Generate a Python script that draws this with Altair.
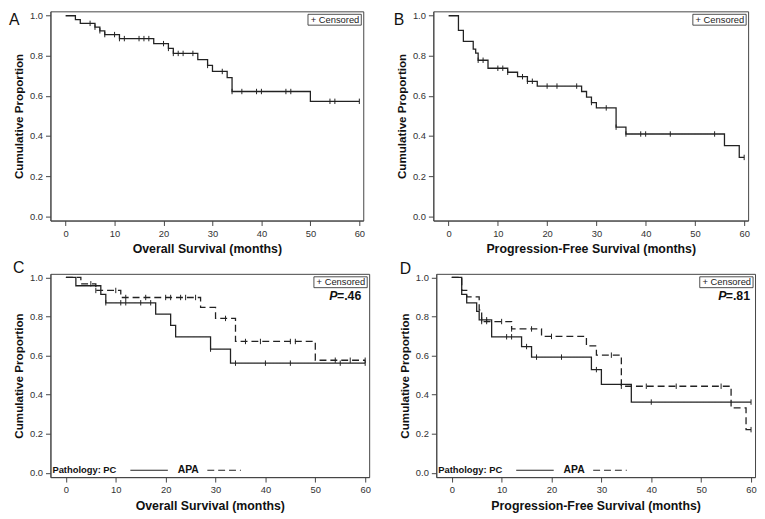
import altair as alt
import pandas as pd

# ---------------- data ----------------
# A: overall survival, all patients
A_time = [0, 2, 3, 6, 7, 8, 11, 18, 21, 22, 27, 29, 30, 33, 34, 50]
A_surv = [1.0, 0.981, 0.962, 0.943, 0.925, 0.906, 0.886, 0.861, 0.837, 0.812,
          0.781, 0.752, 0.722, 0.691, 0.622, 0.573]
A_cens = [5, 6, 7, 8, 10, 11, 12, 15, 16, 17, 20, 21, 22, 23, 24, 26, 29, 32,
          34, 36, 39, 40, 45, 46, 54, 55, 60]

# B: progression-free survival, all patients
B_time = [0, 2, 3, 5, 5.5, 6, 8, 12, 14, 16, 18, 27, 28, 29, 30, 34, 36, 56, 59]
B_surv = [1.0, 0.927, 0.872, 0.833, 0.813, 0.778, 0.738, 0.718, 0.696, 0.673,
          0.649, 0.622, 0.594, 0.567, 0.540, 0.444, 0.410, 0.352, 0.293]
B_cens = [6, 7, 10, 11, 12, 15, 16, 17, 20, 22, 26, 29, 32, 34, 36, 39, 40,
          45, 54, 60]

# C: overall survival by pathology
C_PC_time = [0, 2, 7, 8, 18, 21, 22, 29, 33]
C_PC_surv = [1.0, 0.957, 0.913, 0.870, 0.812, 0.754, 0.696, 0.633, 0.561]
C_PC_cens = [8, 11, 12, 15, 17, 29, 34, 40, 45, 55, 60]
C_APA_time = [0, 3, 6, 11, 27, 30, 34, 50]
C_APA_surv = [1.0, 0.967, 0.933, 0.897, 0.846, 0.790, 0.672, 0.576]
C_APA_cens = [5, 6, 10, 12, 16, 20, 21, 23, 24, 26, 32, 36, 39, 45, 46, 54,
              57, 60]

# D: progression-free survival by pathology
D_PC_time = [0, 2, 3, 5, 5.5, 8, 14, 16, 28, 30, 36]
D_PC_surv = [1.0, 0.913, 0.870, 0.826, 0.783, 0.696, 0.646, 0.592, 0.528,
             0.452, 0.362]
D_PC_cens = [6, 7, 11, 12, 15, 17, 22, 29, 40, 60]
D_APA_time = [0, 2, 3, 5.5, 6, 12, 18, 27, 29, 34, 56, 59]
D_APA_surv = [1.0, 0.933, 0.900, 0.833, 0.774, 0.736, 0.698, 0.649, 0.602,
              0.443, 0.332, 0.221]
D_APA_cens = [6, 7, 10, 12, 16, 20, 32, 34, 39, 45, 54, 60]

X_TICKS = [0, 10, 20, 30, 40, 50, 60]
Y_TICKS = [0.0, 0.2, 0.4, 0.6, 0.8, 1.0]
END_TIME = 60

INK = "#222222"
FRAME = "#444444"
FONT = "Liberation Sans"


def step_rows(times, survs, group):
    rows = [{"t": t, "s": s, "g": group} for t, s in zip(times, survs)]
    rows.append({"t": END_TIME, "s": survs[-1], "g": group})
    return rows


def cens_rows(cens, times, survs, group):
    out = []
    for c in cens:
        s = [sv for t, sv in zip(times, survs) if t <= c][-1]
        out.append({"t": c, "s": s, "g": group})
    return out


def panel(series, letter, xtitle, w, h, ydom, letter_x, letter_y,
          pval=None, pval_right=8, pathology=False):
    curves, cens = [], []
    for (times, survs, cs, g) in series:
        curves += step_rows(times, survs, g)
        cens += cens_rows(cs, times, survs, g)
    curves = pd.DataFrame(curves)
    cens = pd.DataFrame(cens)

    x = alt.X("t:Q", scale=alt.Scale(domain=[-3.1, 60.8], nice=False, zero=False),
              axis=alt.Axis(values=X_TICKS, title=xtitle, titleFontSize=12.5))
    y = alt.Y("s:Q", scale=alt.Scale(domain=ydom, nice=False, zero=False),
              axis=alt.Axis(values=Y_TICKS, format=".1f", title="Cumulative Proportion",
                            titleFontSize=11.8))
    dash = alt.StrokeDash("g:N", scale=alt.Scale(domain=["All", "PC", "APA"],
                                                 range=[[1, 0], [1, 0], [7, 4]]),
                          legend=None)

    lines = alt.Chart(curves).mark_line(
        interpolate="step-after", color=INK, strokeWidth=1.3
    ).encode(x=x, y=y, strokeDash=dash, detail="g:N")

    ticks = alt.Chart(cens).mark_point(
        shape="M0,-1L0,1", filled=False, color=INK, strokeWidth=1,
        size=30, opacity=1
    ).encode(x=x, y=y)

    one = pd.DataFrame({"k": [0]})
    box = alt.Chart(one).mark_rect(fill="white", stroke=INK, strokeWidth=0.8).encode(
        x=alt.value(w - 56), x2=alt.value(w - 2), y=alt.value(3), y2=alt.value(14))
    box_txt = alt.Chart(one).mark_text(
        text="+ Censored", align="right", baseline="middle", fontSize=9.5,
        color=INK, font=FONT
    ).encode(x=alt.value(w - 4), y=alt.value(8.8))
    let = alt.Chart(one).mark_text(
        text=letter, align="left", baseline="alphabetic", fontSize=16,
        color="#111", font=FONT
    ).encode(x=alt.value(letter_x), y=alt.value(letter_y))

    layers = [lines, ticks, box, box_txt, let]

    if pval is not None:
        rx = w - pval_right
        layers.append(alt.Chart(one).mark_text(
            text=pval, align="right", baseline="alphabetic", fontSize=12.5,
            fontWeight="bold", color="#111", font=FONT
        ).encode(x=alt.value(rx), y=alt.value(27)))
        layers.append(alt.Chart(one).mark_text(
            text="P", align="right", baseline="alphabetic", fontSize=12.5,
            fontWeight="bold", fontStyle="italic", color="#111", font=FONT
        ).encode(x=alt.value(rx - 24), y=alt.value(27)))

    if pathology:
        ly = h - 7
        layers.append(alt.Chart(one).mark_text(
            text="Pathology: PC", align="left", baseline="middle", fontSize=9.5,
            fontWeight="bold", color="#111", font=FONT
        ).encode(x=alt.value(2), y=alt.value(ly)))
        layers.append(alt.Chart(one).mark_rule(color=INK, strokeWidth=1.2).encode(
            x=alt.value(81), x2=alt.value(119), y=alt.value(ly)))
        layers.append(alt.Chart(one).mark_text(
            text="APA", align="left", baseline="middle", fontSize=10.5,
            fontWeight="bold", color="#111", font=FONT
        ).encode(x=alt.value(129), y=alt.value(ly)))
        layers.append(alt.Chart(one).mark_rule(
            color=INK, strokeWidth=1.2, strokeDash=[7, 4]).encode(
            x=alt.value(159), x2=alt.value(193), y=alt.value(ly)))

    return alt.layer(*layers).properties(width=w, height=h)


A = panel([(A_time, A_surv, A_cens, "All")], "A", "Overall Survival (months)",
          317, 212, [-0.022, 1.022], -42, 14)
B = panel([(B_time, B_surv, B_cens, "All")], "B", "Progression-Free Survival (months)",
          319, 212, [-0.022, 1.022], -40, 14)
C = panel([(C_PC_time, C_PC_surv, C_PC_cens, "PC"),
           (C_APA_time, C_APA_surv, C_APA_cens, "APA")],
          "C", "Overall Survival (months)", 323, 206, [-0.022, 1.018], -38, -1,
          pval="=.46", pval_right=8, pathology=True)
D = panel([(D_PC_time, D_PC_surv, D_PC_cens, "PC"),
           (D_APA_time, D_APA_surv, D_APA_cens, "APA")],
          "D", "Progression-Free Survival (months)", 323, 206, [-0.022, 1.018], -37, 0,
          pval="=.81", pval_right=5, pathology=True)

chart = alt.vconcat(
    alt.hconcat(A, B, spacing=28),
    alt.hconcat(C, D, spacing=28),
    spacing=3,
).properties(
    padding={"left": 0, "top": -2, "right": 0, "bottom": 0},
    autosize=alt.AutoSizeParams(type="pad"),
).configure(
    font=FONT
).configure_view(
    stroke=FRAME, strokeWidth=1
).configure_axis(
    grid=False, domainColor=FRAME, tickColor=FRAME, labelColor="#333",
    titleColor="#111", labelFontSize=9.5, labelFont=FONT,
    titleFont=FONT, titleFontWeight="bold",
    tickSize=5, labelPadding=3, titlePadding=5
)

chart.save("out.html", embed_options={"renderer": "svg", "actions": False})
